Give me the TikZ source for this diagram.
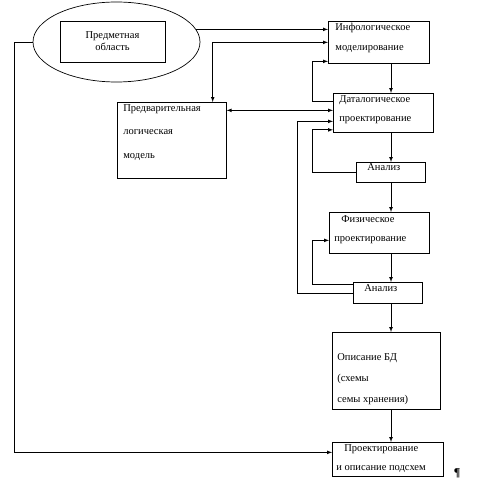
\documentclass[tikz,border=0pt]{standalone}
\usepackage{fontspec}
\setmainfont{Liberation Serif}
\usetikzlibrary{shapes, arrows, calc, positioning}
% box text: height, width, line step, top gap, left gap, text
\newcommand{\boxtext}[6]{\parbox[c][#1][t]{#2}{\fontsize{10.5}{#3}\selectfont\raggedright\leftskip=#5\relax\vspace*{#4}#6}}

\begin{document}
\begin{tikzpicture}[x=1pt,y=-1pt,line width=0.7pt,>=latex]
            \useasboundingbox (0,0) rectangle (476,489);
            \begin{scope}
            \tikzstyle{every node}=[draw,anchor=north west,inner sep=0pt]

            \node[shape=ellipse,anchor=center,minimum width=167pt,minimum height=80pt] (obl) at (116.5,42) {};
            \node[anchor=center,minimum width=105pt,minimum height=41pt,align=center,font=\fontsize{10.5}{12}\selectfont] (obl_0) at (112.5,41.5) {Предметная\\область};

            \node (info) at (328,21) {\boxtext{42pt}{101pt}{20pt}{2pt}{7pt}{Инфологическое\\моделирование}};
            \node (datal) at (333,93) {\boxtext{39pt}{100pt}{19pt}{2pt}{6pt}{Даталогическое\\проектирование}};
            \node (pred) at (117,102) {\boxtext{76pt}{109pt}{23.5pt}{2pt}{6pt}{Предварительная\\логическая\\модель}};

            \node (an_1) at (356,162) {\boxtext{20pt}{69pt}{19pt}{1pt}{11pt}{Анализ}};
            \node (phys) at (329,212) {\boxtext{41pt}{100pt}{19pt}{3pt}{5pt}{\hspace*{7pt}Физическое\\проектирование}};
            \node (an_2) at (353,282) {\boxtext{21pt}{69pt}{19pt}{2pt}{11pt}{Анализ}};

            \node (desc) at (332,332) {\boxtext{77pt}{108pt}{21pt}{21pt}{5pt}{Описание БД\\(схемы\\семы хранения)}};
            \node (proj) at (332,442) {\boxtext{34pt}{111pt}{19pt}{2pt}{4pt}{\hspace*{8pt}Проектирование\\и описание подсхем}};

            \node[draw=none,anchor=center,font=\fontsize{12}{12}\selectfont\bfseries] (pil) at (457,473) {¶};

            \coordinate (axis) at (391,0);

            \draw [->] (obl.9) -- (obl.9 -| info.west);
            \draw [<->] (info.west) -| ([xshift=-14pt]pred.north east);
            \draw [->] (obl.west) -- ++(-18,0) |- ([yshift=7pt]proj.west);

            \draw [->] (info.south -| axis) -- (datal.north -| axis);
            \draw [->] ([yshift=11.5pt]datal.west) -- ++(-21,0) |- ([yshift=-19pt]info.west);
            \draw [<->] ([yshift=2.5pt]datal.west) -- ([yshift=2.5pt]datal.west -| pred.east);

            \draw [->] (datal.south -| axis) -- (an_1.north -| axis);
            \draw [->] (an_1.west) -- ++(-44,0) |- ([yshift=-17pt]datal.west);
            \draw [->] (an_1.south -| axis) -- (phys.north -| axis);

            \draw [->] (phys.south -| axis) -- (an_2.north -| axis);
            \draw [->] ([yshift=8.5pt]an_2.west) -- ++(-41,0) |- ([yshift=-7.5pt]phys.west);
            \draw [->] (an_2.west) -- ++(-56,0) |- ([yshift=-8.5pt]datal.west);

            \draw [->] (an_2.south -| axis) -- (desc.north -| axis);
            \draw [->] (desc.south -| axis) -- (proj.north -| axis);

            \end{scope}
\end{tikzpicture}
\end{document}
